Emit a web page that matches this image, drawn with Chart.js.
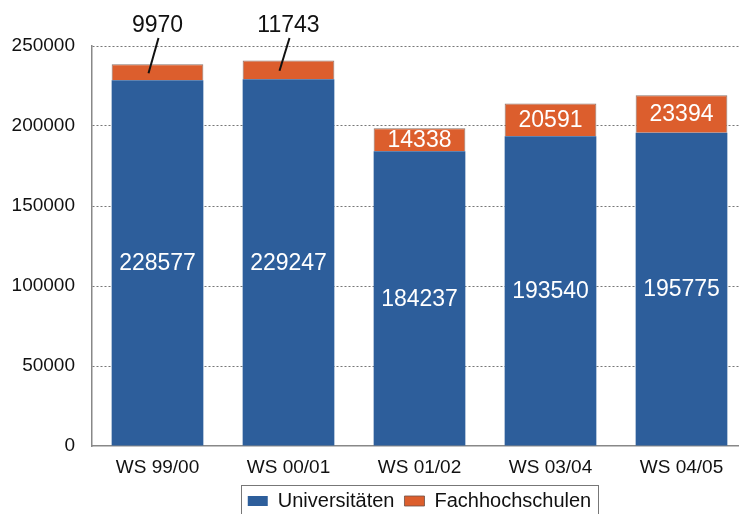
<!DOCTYPE html>
<html>
<head>
<meta charset="utf-8">
<script src="https://cdn.jsdelivr.net/npm/chart.js@4"></script>
<style>
    html, body { margin: 0; padding: 0; background: #fff; overflow: hidden; }
    #wrap { width: 750px; height: 514px; position: relative; }
</style>
</head>
<body>
<div id="wrap"><canvas id="chart"></canvas></div>
<script>
// Studierende: Universitäten vs. Fachhochschulen

const categories = ['WS 99/00', 'WS 00/01', 'WS 01/02', 'WS 03/04', 'WS 04/05'];
const universitaeten = [228577, 229247, 184237, 193540, 195775];
const fachhochschulen = [9970, 11743, 14338, 20591, 23394];
const yMax = 250000;
const yStep = 50000;

const blue = '#2D5E9B';
const orange = '#DC5E2D';
const fontFamily = '"Liberation Sans", Arial, sans-serif';

// value labels inside segments, small ones above with a leader line
const valueLabels = {
    id: 'valueLabels',
    afterDatasetsDraw(chart) {
        const ctx = chart.ctx;
        ctx.save();
        ctx.font = '23px ' + fontFamily;
        ctx.textAlign = 'center';
        ctx.textBaseline = 'middle';
        chart.data.datasets.forEach((ds, di) => {
            const meta = chart.getDatasetMeta(di);
            meta.data.forEach((bar, i) => {
                const top = Math.min(bar.y, bar.base);
                const h = Math.abs(bar.base - bar.y);
                const cy = top + h / 2;
                const label = String(ds.data[i]);
                if (h >= 20) {
                    ctx.fillStyle = '#ffffff';
                    ctx.fillText(label, bar.x, cy + 1);
                } else {
                    // outside label with leader line
                    const ty = chart.chartArea.top - 20;
                    ctx.fillStyle = '#111';
                    ctx.fillText(label, bar.x, ty);
                    ctx.strokeStyle = '#111';
                    ctx.lineWidth = 2;
                    ctx.beginPath();
                    ctx.moveTo(bar.x + 1, ty + 12);
                    ctx.lineTo(bar.x - 9, cy + 1);
                    ctx.stroke();
                }
            });
        });
        ctx.restore();
    }
};

// legend: shorter box + frame around the items
const legendFrame = {
    id: 'legendFrame',
    beforeInit(chart) {
        const originalFit = chart.legend.fit;
        chart.legend.fit = function fit() {
            originalFit.bind(chart.legend)();
            this.height = 33;
        };
    },
    afterDraw(chart) {
        const items = chart.legend && chart.legend.legendHitBoxes;
        if (!items || !items.length) return;
        let x0 = Infinity, x1 = -Infinity, y0 = Infinity;
        items.forEach(b => {
            x0 = Math.min(x0, b.left);
            x1 = Math.max(x1, b.left + b.width);
            y0 = Math.min(y0, b.top);
        });
        const ctx = chart.ctx;
        ctx.save();
        ctx.strokeStyle = '#777';
        ctx.lineWidth = 1;
        ctx.strokeRect(Math.round(x0 - 7) + 0.5, Math.round(y0 - 6) + 0.5, Math.round(x1 - x0 + 14), 40);
        ctx.restore();
    }
};

new Chart(document.getElementById('chart'), {
    type: 'bar',
    data: {
        labels: categories,
        datasets: [
            {
                label: 'Universitäten',
                data: universitaeten,
                backgroundColor: blue,
                borderWidth: 0,
                barPercentage: 0.7,
                categoryPercentage: 1.0
            },
            {
                label: 'Fachhochschulen',
                data: fachhochschulen,
                backgroundColor: orange,
                borderColor: 'rgba(110,80,70,0.8)',
                borderWidth: 1,
                borderSkipped: 'bottom',
                barPercentage: 0.7,
                categoryPercentage: 1.0
            }
        ]
    },
    plugins: [valueLabels, legendFrame],
    options: {
        responsive: true,
        maintainAspectRatio: false,
        animation: false,
        layout: {
            padding: { top: 46, right: 3, left: 12, bottom: 0 }
        },
        plugins: {
            legend: {
                display: true,
                position: 'bottom',
                fullSize: false,
                labels: {
                    color: '#111',
                    boxWidth: 20,
                    boxHeight: 10,
                    padding: 10,
                    font: { family: fontFamily, size: 20 }
                }
            },
            tooltip: { enabled: false }
        },
        scales: {
            x: {
                stacked: true,
                grid: { display: false, drawTicks: false },
                border: { display: true, color: '#888', width: 1.5 },
                ticks: {
                    color: '#111',
                    padding: 10,
                    font: { family: fontFamily, size: 19 }
                },
                afterFit(scale) { scale.height = 35; }
            },
            y: {
                stacked: true,
                min: 0,
                max: yMax,
                grid: {
                    drawTicks: false,
                    color: (c) => c.tick && c.tick.value === 0 ? 'rgba(0,0,0,0)' : '#777',
                    lineWidth: 1
                },
                border: { display: true, color: '#888', width: 1.5, dash: [2, 2] },
                ticks: {
                    stepSize: yStep,
                    color: '#111',
                    padding: 17,
                    font: { family: fontFamily, size: 19 },
                    callback: (v) => String(v)
                },
                afterFit(scale) { scale.width = 80; }
            }
        }
    }
});
</script>
</body>
</html>
